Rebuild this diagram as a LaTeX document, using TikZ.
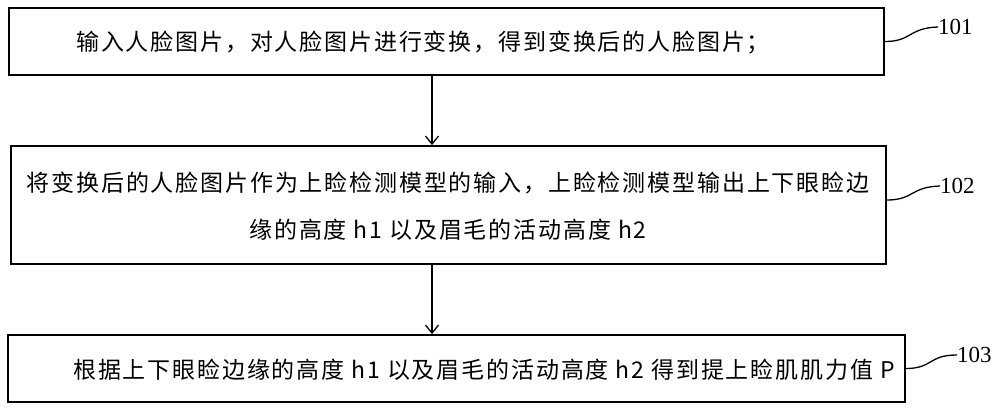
\documentclass[tikz,border=0pt]{standalone}
\usepackage{fontspec}
\setmainfont{Liberation Serif}
\newfontfamily\cjk[LetterSpace=8]{Noto Sans CJK SC}
\usetikzlibrary{arrows.meta}
\tikzset{
  box/.style={draw=black, line width=1.8pt, inner sep=0pt, fill=none},
  txt/.style={font=\cjk\fontsize{23}{47}\selectfont, inner sep=0pt, text=black},
  arr/.style={draw=black, line width=1.3pt, -{Straight Barb[length=8pt,width=13pt,line width=1.3pt]}},
  lead/.style={draw=black, line width=1.3pt},
  num/.style={font=\fontsize{23}{27}\selectfont, inner sep=0pt, anchor=west}
}
\begin{document}
\begin{tikzpicture}[x=1pt,y=-1pt]
\useasboundingbox (0,0) rectangle (1000,410);
\fill[white] (0,0) rectangle (1000,410);
% boxes
\node[box, minimum width=875pt, minimum height=67pt] (b1) at (446.5,41.5) {};
\node[box, minimum width=875pt, minimum height=118pt] (b2) at (448.5,205) {};
\node[box, minimum width=897pt, minimum height=67pt] (b3) at (456.5,368.5) {};
% texts
\node[txt, anchor=west] (t1) at (76,43) {输入人脸图片，对人脸图片进行变换，得到变换后的人脸图片；};
\node[txt, align=center] (t2) at (448,206.5) {将变换后的人脸图片作为上睑检测模型的输入，上睑检测模型输出上下眼睑边\\缘的高度 h1 以及眉毛的活动高度 h2};
\node[txt, anchor=west] (t3) at (73,370) {根据上下眼睑边缘的高度 h1 以及眉毛的活动高度 h2 得到提上睑肌肌力值 P};
% arrows
\coordinate (ax) at (432,0);
\draw[arr] (b1.south -| ax) -- (b2.north -| ax);
\draw[arr] (b2.south -| ax) -- (b3.north -| ax);
% labels
\node[num] (n1) at (938,27) {101};
\node[num] (n2) at (940,186) {102};
\node[num] (n3) at (957,355) {103};
\draw[lead] (b1.east) .. controls (912,41.5) and (908,28) .. (n1.west);
\draw[lead] ([yshift=5pt]b2.east) .. controls (914,200) and (910,187) .. (n2.west);
\draw[lead] (b3.east) .. controls (933,368.5) and (928,355) .. (n3.west);
\end{tikzpicture}
\end{document}
